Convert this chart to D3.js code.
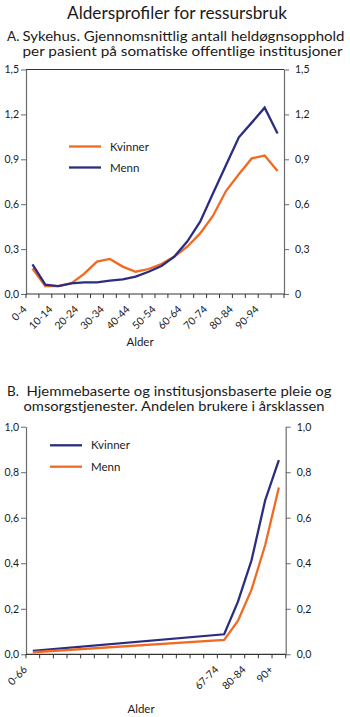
<!DOCTYPE html>
<html><head><meta charset="utf-8">
<script src="https://cdn.jsdelivr.net/npm/d3@7"></script>
<style>
html,body{margin:0;padding:0;background:#fff;}
svg{display:block;font-family:Lato,"Open Sans",sans-serif;}
</style></head><body>
<svg id="chart" width="350" height="717"></svg>
<script>
// ---------- DATA ----------
const mainTitle = "Aldersprofiler for ressursbruk";
const titleA = ["A.", "Sykehus. Gjennomsnittlig antall heldøgnsopphold", "per pasient på somatiske offentlige institusjoner"];
const titleB = ["B.", "Hjemmebaserte og institusjonsbaserte  pleie og", "omsorgstjenester. Andelen brukere i årsklassen"];
const xTitle = "Alder";

const agesA = ["0-4","5-9","10-14","15-19","20-24","25-29","30-34","35-39","40-44","45-49",
               "50-54","55-59","60-64","65-69","70-74","75-79","80-84","85-89","90-94","95+"];
const labeledAgesA = ["0-4","10-14","20-24","30-34","40-44","50-54","60-64","70-74","80-84","90-94"];
const kvinnerA = [0.17,0.053,0.053,0.071,0.134,0.216,0.234,0.183,0.149,0.167,
                  0.20,0.25,0.316,0.405,0.523,0.688,0.80,0.906,0.925,0.822];
const mennA    = [0.198,0.063,0.053,0.071,0.078,0.078,0.089,0.098,0.116,0.149,
                  0.187,0.25,0.35,0.483,0.673,0.86,1.047,1.145,1.245,1.073];
const yTicksA = [0,0.3,0.6,0.9,1.2,1.5];
const yTickLabelsALeft  = ["0,0","0,3","0,6","0,9","1,2","1,5"];
const yTickLabelsARight = ["0","0,3","0,6","0,9","1,2","1,5"];
const seriesNamesA = ["Kvinner","Menn"];

const agesB = ["0-66","","","","","","","","","","","","","","67-74","75-79","80-84","85-89","90+"];
const labeledAgesB = ["0-66","67-74","80-84","90+"];
const kvinnerB = [0.015,null,null,null,null,null,null,null,null,null,null,null,null,null,0.088,0.23,0.413,0.677,0.853];
const mennB    = [0.009,null,null,null,null,null,null,null,null,null,null,null,null,null,0.063,0.147,0.284,0.48,0.733];
const yTicksB = [0,0.2,0.4,0.6,0.8,1.0];
const yTickLabelsB = ["0,0","0,2","0,4","0,6","0,8","1,0"];
const seriesNamesB = ["Kvinner","Menn"];

// ---------- STYLE ----------
const ORANGE = "#f26a22", BLUE = "#2b2e80";
const AXIS_DARK = "#333", AXIS_GREY = "#6b6b6b", TEXT = "#1a1a1a";

const svg = d3.select("#chart");

function fitText(sel, w){ sel.attr("textLength", w).attr("lengthAdjust","spacingAndGlyphs"); }

svg.append("text").attr("x",177).attr("y",18.5).attr("text-anchor","middle")
  .attr("font-size",18).attr("fill",TEXT).text(mainTitle).call(fitText,220);

function panelTitle(lines, y1, y2, w1x, w1, w2x, w2){
  const t = svg.append("text").attr("font-size",13.5).attr("fill",TEXT);
  t.append("tspan").attr("x",7).attr("y",y1).text(lines[0]);
  t.append("tspan").attr("x",w1x).attr("y",y1).text(lines[1]).call(fitText,w1);
  t.append("tspan").attr("x",w2x).attr("y",y2).text(lines[2]).call(fitText,w2);
}
panelTitle(titleA, 41, 55.5, 22.5, 322, 22.5, 320);
panelTitle(titleB, 396, 410.5, 26.5, 305, 23.5, 301);

function drawPanel(cfg){
  const g = svg.append("g");
  const x = d3.scaleBand().domain(cfg.domain).range([cfg.left, cfg.right]);
  const y = d3.scaleLinear().domain([0, cfg.ymax]).range([cfg.bottom, cfg.top]);
  const cx = d => x(d) + x.bandwidth()/2;

  const la = g.append("g").attr("transform",`translate(${cfg.left},0)`)
    .call(d3.axisLeft(y).tickValues(cfg.yTicks).tickSize(5).tickSizeOuter(0).tickPadding(2)
      .tickFormat((d,i)=>cfg.leftLabels[i]));
  const ra = g.append("g").attr("transform",`translate(${cfg.right},0)`)
    .call(d3.axisRight(y).tickValues(cfg.yTicks).tickSize(5).tickSizeOuter(0).tickPadding(6)
      .tickFormat((d,i)=>cfg.rightLabels[i]));
  [la,ra].forEach(a=>{
    a.select(".domain").attr("stroke",AXIS_GREY).attr("stroke-width",1.2);
    a.selectAll(".tick line").attr("stroke",AXIS_GREY);
    a.selectAll(".tick text").attr("font-size",10.5).attr("fill",TEXT).attr("font-family","Lato,'Open Sans',sans-serif");
  });
  if (cfg.topLine){
    g.append("line").attr("x1",cfg.left).attr("x2",cfg.right).attr("y1",y(cfg.ymax)).attr("y2",y(cfg.ymax))
      .attr("stroke",AXIS_DARK).attr("stroke-width",1.2);
  }
  g.append("line").attr("x1",cfg.left).attr("x2",cfg.right).attr("y1",y(0)).attr("y2",y(0))
    .attr("stroke",AXIS_DARK).attr("stroke-width",1.2);
  const bounds = cfg.domain.map(d=>x(d)).concat([x(cfg.domain[cfg.domain.length-1])+x.bandwidth()]);
  g.selectAll("line.xt").data(bounds).join("line").attr("class","xt")
    .attr("x1",d=>d).attr("x2",d=>d).attr("y1",y(0)).attr("y2",y(0)+4)
    .attr("stroke",AXIS_DARK).attr("stroke-width",1);
  g.selectAll("text.xl").data(cfg.labeled).join("text").attr("class","xl")
    .attr("transform",d=>`translate(${cx(cfg.keyOf(d))-5},${y(0)+16}) rotate(-45)`)
    .attr("text-anchor","end").attr("font-size",10.5).attr("fill",TEXT).text(d=>d);
  g.append("text").attr("x",cfg.xTitleX).attr("y",cfg.xTitleY).attr("text-anchor","middle")
    .attr("font-size",11.5).attr("fill",TEXT).text(xTitle);

  cfg.series.forEach(s=>{
    const pts = s.values.map((v,i)=>({k:cfg.domain[i], v})).filter(p=>p.v!=null);
    g.append("path").datum(pts)
      .attr("d", d3.line().x(p=>cx(p.k)).y(p=>y(p.v)))
      .attr("fill","none").attr("stroke",s.color).attr("stroke-width",2.3)
      .attr("stroke-linejoin","miter");
  });
  cfg.series.forEach((s,i)=>{
    const ly = cfg.legendY[i];
    g.append("line").attr("x1",cfg.legendX).attr("x2",cfg.legendX+32).attr("y1",ly).attr("y2",ly)
      .attr("stroke",s.color).attr("stroke-width",2.3);
    g.append("text").attr("x",cfg.legendX+41).attr("y",ly+4).attr("font-size",11.5).attr("fill",TEXT).text(s.name);
  });
}

drawPanel({
  domain: agesA, labeled: labeledAgesA, keyOf: d=>d,
  left:26, right:284, top:69.5, bottom:294, ymax:1.5,
  yTicks:yTicksA, leftLabels:yTickLabelsALeft, rightLabels:yTickLabelsARight, topLine:true,
  xTitleX:140, xTitleY:346,
  series:[{name:seriesNamesA[0], values:kvinnerA, color:ORANGE},{name:seriesNamesA[1], values:mennA, color:BLUE}],
  legendX:69, legendY:[146.5,167.5]
});

drawPanel({
  domain: d3.range(agesB.length), labeled: labeledAgesB, keyOf: d=>agesB.indexOf(d),
  left:26, right:285.7, top:426.7, bottom:654.3, ymax:1.0,
  yTicks:yTicksB, leftLabels:yTickLabelsB, rightLabels:yTickLabelsB, topLine:false,
  xTitleX:141, xTitleY:713,
  series:[{name:seriesNamesB[0], values:kvinnerB, color:BLUE},{name:seriesNamesB[1], values:mennB, color:ORANGE}],
  legendX:50, legendY:[445.3,466.7]
});
</script>
</body></html>
